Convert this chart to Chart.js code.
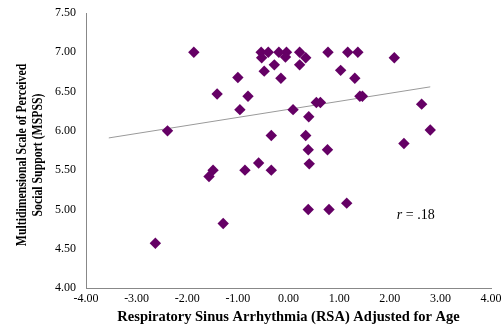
<!DOCTYPE html>
<html>
<head>
<meta charset="utf-8">
<script src="https://cdn.jsdelivr.net/npm/chart.js@4/dist/chart.umd.min.js"></script>
<style>
  html, body { margin: 0; padding: 0; background: #fff; }
  #wrap { width: 501px; height: 328px; }
</style>
</head>
<body>
<div id="wrap"><canvas id="scatterChart" width="501" height="328"></canvas></div>
<script>
// RSA (x) and MSPSS (y)
const rsaValues = [-1.87, -2.39, -0.54, -0.40, -0.19, -0.04, -0.53, -0.06, -0.28, -0.48,
  -0.15, -1.00, -1.41, -0.80, -0.96, -0.34, 0.22, 0.34, 0.22, 0.78,
  1.17, 1.37, 2.09, 1.03, 1.31, 1.41, 1.46, 0.55, 0.63, 0.09,
  0.40, 2.63, 2.80, 0.34, 2.28, 0.39, 0.77, 0.41, -1.49, -1.57,
  -0.86, -0.59, -0.34, -1.29, -2.63, 0.39, 0.80, 1.15];
const mspssValues = [7.00, 6.00, 7.00, 7.00, 7.00, 7.00, 6.93, 6.94, 6.84, 6.76,
  6.67, 6.68, 6.47, 6.44, 6.27, 5.94, 7.00, 6.93, 6.84, 7.00,
  7.00, 7.00, 6.93, 6.77, 6.67, 6.44, 6.44, 6.36, 6.36, 6.27,
  6.18, 6.34, 6.01, 5.94, 5.84, 5.76, 5.76, 5.58, 5.50, 5.42,
  5.50, 5.59, 5.50, 4.82, 4.57, 5.00, 5.00, 5.08];

// fitted line end points
const fitX = [-3.55, 2.80];
const fitY = [5.91, 6.56];

const xTitle = 'Respiratory Sinus Arrhythmia (RSA) Adjusted for Age';
const yTitle = ['Multidimensional Scale of Perceived', 'Social Support (MSPSS)'];
const rLabel = { x: 2.14, y: 4.93, r: 'r', rest: ' = .18' };

const serif = "'Liberation Serif', 'Times New Roman', serif";

const points = rsaValues.map((x, i) => ({ x: x, y: mspssValues[i] }));
const fitLine = fitX.map((x, i) => ({ x: x, y: fitY[i] }));

// draws the "r = .18" note with italic r
const rNote = {
  id: 'rNote',
  afterDatasetsDraw(chart) {
    const ctx = chart.ctx;
    const px = chart.scales.x.getPixelForValue(rLabel.x);
    const py = chart.scales.y.getPixelForValue(rLabel.y);
    ctx.save();
    ctx.fillStyle = '#000';
    ctx.textBaseline = 'middle';
    ctx.textAlign = 'left';
    ctx.font = 'italic 14px ' + serif;
    ctx.fillText(rLabel.r, px, py);
    const w = ctx.measureText(rLabel.r).width;
    ctx.font = '14px ' + serif;
    ctx.fillText(rLabel.rest, px + w, py);
    ctx.restore();
  }
};

// y axis title, rotated and a bit narrow like the original
const yTitlePlugin = {
  id: 'yTitlePlugin',
  afterDraw(chart) {
    const ctx = chart.ctx;
    const cy = 155;
    const xs = [22.5, 38.5];
    ctx.save();
    ctx.fillStyle = '#000';
    ctx.font = 'bold 14px ' + serif;
    ctx.textAlign = 'center';
    ctx.textBaseline = 'middle';
    yTitle.forEach((line, i) => {
      ctx.save();
      ctx.translate(xs[i], cy);
      ctx.rotate(-Math.PI / 2);
      ctx.scale(0.84, 1);
      ctx.fillText(line, 0, 0);
      ctx.restore();
    });
    ctx.restore();
  }
};

new Chart(document.getElementById('scatterChart'), {
  type: 'scatter',
  data: {
    datasets: [{
      label: 'MSPSS',
      data: points,
      pointStyle: 'rectRot',
      pointRadius: 5.7,
      pointHoverRadius: 5.7,
      backgroundColor: '#650065',
      borderColor: '#650065',
      borderWidth: 0
    }, {
      label: 'Fit',
      type: 'line',
      data: fitLine,
      showLine: true,
      pointRadius: 0,
      borderColor: '#9a9a9a',
      borderWidth: 1,
      fill: false
    }]
  },
  options: {
    responsive: false,
    animation: false,
    events: [],
    layout: { padding: { left: 0, right: 10, top: 13, bottom: 0 } },
    plugins: {
      legend: { display: false },
      tooltip: { enabled: false }
    },
    scales: {
      x: {
        type: 'linear',
        min: -4, max: 4,
        ticks: {
          stepSize: 1,
          padding: 4,
          color: '#000',
          font: { family: serif, size: 12 },
          callback: v => v.toFixed(2)
        },
        grid: { display: false, drawTicks: false },
        border: { display: true, color: '#888', width: 1 },
        title: {
          display: true,
          text: xTitle,
          color: '#000',
          font: { family: serif, size: 14.5, weight: 'bold' },
          padding: { top: 0, bottom: 2 }
        },
        afterFit: s => { s.height = 40; s.paddingLeft = 0; s.paddingRight = 0; }
      },
      y: {
        type: 'linear',
        min: 4, max: 7.5,
        ticks: {
          stepSize: 0.5,
          padding: 10,
          color: '#000',
          font: { family: serif, size: 12 },
          callback: v => v.toFixed(2)
        },
        grid: { display: false, drawTicks: false },
        border: { display: true, color: '#888', width: 1 },
        title: { display: false },
        afterFit: s => { s.width = 86; s.paddingTop = 0; s.paddingBottom = 0; }
      }
    }
  },
  plugins: [rNote, yTitlePlugin]
});
</script>
</body>
</html>
